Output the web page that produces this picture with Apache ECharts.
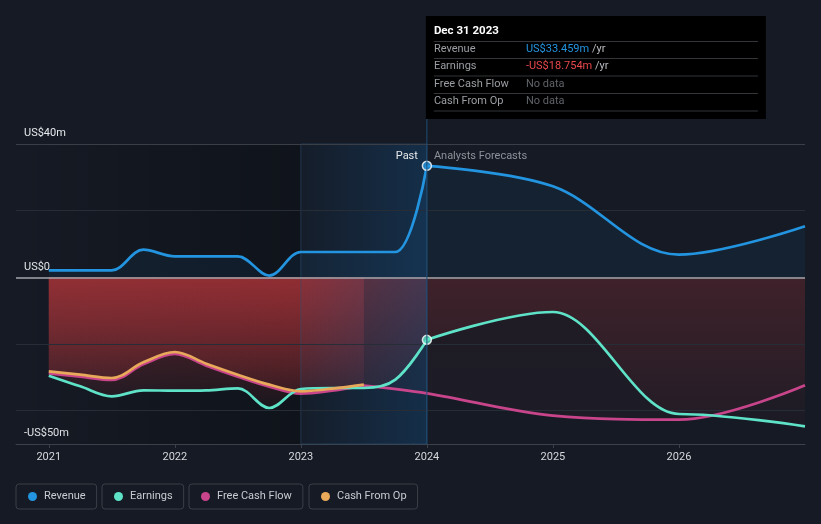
<!DOCTYPE html>
<html>
<head>
<meta charset="utf-8">
<script src="https://cdn.jsdelivr.net/npm/echarts@6/dist/echarts.min.js"></script>
<style>
html,body{margin:0;padding:0;background:#151a24;}
#c{width:821px;height:524px;}
</style>
</head>
<body>
<div id="c"></div>
<script>
// ---------- data ----------
const pastX        = [2021, 2021.25, 2021.5, 2021.75, 2022, 2022.25, 2022.5, 2022.75, 2023, 2023.25, 2023.5, 2023.75, 2024];
const revenuePast  = [2.1, 2.1, 2.1, 8.3, 6.3, 6.3, 6.3, 0.5, 7.6, 7.6, 7.6, 7.6, 33.459];
const earningsPast = [-29.5, -32.7, -35.7, -33.9, -34.0, -33.9, -33.3, -39.2, -33.5, -33.2, -33.2, -30.7, -18.754];
const cashOpX      = [2021, 2021.25, 2021.5, 2021.75, 2022, 2022.25, 2022.5, 2022.75, 2023, 2023.25, 2023.5];
const cashFromOp   = [-28.2, -29.2, -30.2, -25.5, -22.4, -25.9, -29.2, -32.2, -34.2, -33.4, -32.2];
const fcfPast      = [-28.8, -29.8, -30.8, -26.1, -23.0, -26.5, -29.8, -32.8, -34.9, -34.0, -32.5];
const forecastX    = [2024, 2025, 2026, 2027];
const revenueFc    = [33.459, 27.3, 6.8, 15.3];
const earningsFc   = [-18.754, -10.4, -41.0, -44.7];
const fcfFcX       = [2023.5, 2024, 2025, 2026, 2027];
const fcfFc        = [-32.5, -34.8, -41.5, -42.7, -32.4];

const seriesNames  = ['Revenue', 'Earnings', 'Free Cash Flow', 'Cash From Op'];
const yearTicks    = [2021, 2022, 2023, 2024, 2025, 2026];
const yLabelValues = [-50, 0, 40];
const yLabelTexts  = ['-US$50m', 'US$0', 'US$40m'];
const gridValues   = [40, 20, -20, -40];
const pastBand     = [2023, 2024];
const bandTexts    = ['Past', 'Analysts Forecasts'];

const tipTitle     = 'Dec 31 2023';
const tipLabels    = ['Revenue', 'Earnings', 'Free Cash Flow', 'Cash From Op'];
const tipValues    = ['US$33.459m', '-US$18.754m', 'No data', 'No data'];

// ---------- style ----------
const FONT = 'Roboto, "Noto Sans", sans-serif';
const COL = { Revenue:'#2394df', Earnings:'#5fe3c8', 'Free Cash Flow':'#c8458b', 'Cash From Op':'#e9a95b' };
const X_MIN = 2020.74, X_MAX = 2027, Y_MIN = -50, Y_MAX = 40;
const SMOOTH = 0.35;
const RED = '194,56,60';

function pairs(xs, ys){ return xs.map((x,i)=>[x, ys[i]]); }

function makeOption(geo){
  const lg = (y0, y1, stops) => geo
    ? new echarts.graphic.LinearGradient(0, y0, 0, y1, stops, true)
    : stops[0].color;
  const pastStops = a => [
    {offset:0, color:`rgba(${RED},${a})`},
    {offset:0.5, color:`rgba(${RED},${(a*0.5).toFixed(3)})`},
    {offset:1, color:`rgba(${RED},0)`}];
  const fcStops = (a, b) => [
    {offset:0, color:`rgba(${RED},${a})`},
    {offset:1, color:`rgba(${RED},${b})`}];
  const g = geo || {y0:0, y45:1, y50:1};

  const fillBase = {type:'line', smooth:SMOOTH, symbol:'none', silent:true, z:2,
    lineStyle:{width:0, opacity:0}, emphasis:{disabled:true}, legendHoverLink:false};
  const lineBase = {type:'line', smooth:SMOOTH, symbol:'none', silent:true, z:5,
    emphasis:{disabled:true}};
  const lineStyle = n => ({color:COL[n], width:2.7});

  const legendLefts = [16, 102, 189, 309];
  const legends = seriesNames.map((n,i)=>({
    data:[n], left:legendLefts[i], top:484, orient:'horizontal',
    icon:'circle', itemWidth:9, itemHeight:9, selectedMode:false,
    padding:[7, 11, 7, 12], borderColor:'#3a3e46', borderWidth:1, borderRadius:3,
    textStyle:{color:'#c8ccd2', fontSize:11, fontFamily:FONT, padding:[0,0,0,2]}
  }));

  const gridLines = gridValues.map(v=>({yAxis:v, lineStyle:{color: v===Y_MAX ? '#3a3f47' : '#272d36', width:1, type:'solid'}}));
  gridLines.push({yAxis:0, lineStyle:{color:'#a3a6ab', width:1.5, type:'solid'}});

  const series = [
    {type:'line', name:'_shade', data:[], z:1, silent:true,
      markArea:{silent:true, z:1,
        itemStyle:{color:new echarts.graphic.LinearGradient(0,0,1,0,[
          {offset:0,color:'rgba(0,0,0,0)'},{offset:1,color:'rgba(0,0,0,0.27)'}])},
        data:[[{xAxis:X_MIN},{xAxis:pastBand[0]}]]}},
    {...fillBase, name:'_revPastFill', data:pairs(pastX, revenuePast), areaStyle:{color:'rgba(35,148,223,0.1)'}},
    {...fillBase, name:'_revFcFill', data:pairs(forecastX, revenueFc), areaStyle:{color:'rgba(35,148,223,0.1)'}},
    {...fillBase, name:'_earnPastFill', data:pairs(pastX, earningsPast), areaStyle:{color:lg(g.y0, g.y45, pastStops(0.66))}},
    {...fillBase, name:'_cfoFill', data:pairs(cashOpX, cashFromOp), areaStyle:{color:lg(g.y0, g.y45, pastStops(0.45))}},
    {...fillBase, name:'_fcfPastFill', data:pairs(cashOpX, fcfPast), areaStyle:{color:lg(g.y0, g.y45, pastStops(0.35))}},
    {...fillBase, name:'_earnFcFill', smoothMonotone:'x', data:pairs(forecastX, earningsFc), areaStyle:{color:lg(g.y0, g.y50, fcStops(0.27, 0.02))}},
    {...fillBase, name:'_fcfFcFill', data:pairs(fcfFcX, fcfFc), areaStyle:{color:lg(g.y0, g.y50, fcStops(0.09, 0.06))}},
    {type:'line', name:'_band', data:[], z:3, silent:true,
      markArea:{silent:true, z:3,
        itemStyle:{color:new echarts.graphic.LinearGradient(0,0,1,0,[
          {offset:0,color:'rgba(20,75,125,0.06)'},{offset:1,color:'rgba(20,75,125,0.42)'}]),
          borderColor:'rgba(45,80,115,0.55)', borderWidth:1},
        data:[[{xAxis:pastBand[0]},{xAxis:pastBand[1]}]]}},
    {type:'line', name:'_grid', data:[], z:4, silent:true,
      markLine:{silent:true, z:4, symbol:'none', label:{show:false}, animation:false, data:gridLines}},
    {...lineBase, name:'Cash From Op', color:COL['Cash From Op'], data:pairs(cashOpX, cashFromOp), lineStyle:lineStyle('Cash From Op'), z:6},
    {...lineBase, name:'Free Cash Flow', color:COL['Free Cash Flow'], data:pairs(cashOpX, fcfPast), lineStyle:lineStyle('Free Cash Flow'), z:5},
    {...lineBase, name:'Free Cash Flow', color:COL['Free Cash Flow'], data:pairs(fcfFcX, fcfFc), lineStyle:lineStyle('Free Cash Flow')},
    {...lineBase, name:'Earnings', color:COL.Earnings, data:pairs(pastX, earningsPast), lineStyle:lineStyle('Earnings')},
    {...lineBase, name:'Earnings', color:COL.Earnings, smoothMonotone:'x', data:pairs(forecastX, earningsFc), lineStyle:lineStyle('Earnings')},
    {...lineBase, name:'Revenue', color:COL.Revenue, data:pairs(pastX, revenuePast), lineStyle:lineStyle('Revenue')},
    {...lineBase, name:'Revenue', color:COL.Revenue, data:pairs(forecastX, revenueFc), lineStyle:lineStyle('Revenue')},
    {type:'scatter', name:'_now', z:7, silent:true, symbolSize:9,
      data:[
        {value:[forecastX[0], revenueFc[0]], itemStyle:{color:COL.Revenue, borderColor:'#ffffff', borderWidth:1.5}},
        {value:[forecastX[0], earningsFc[0]], itemStyle:{color:COL.Earnings, borderColor:'#ffffff', borderWidth:1.5}}
      ]}
  ];

  let graphic = [];
  if (geo){
    const bx = geo.x24 - 1, by = 16, bw = 340, bh = 103;
    const txt = (x, y, text, fill, extra) => ({type:'text', x, y, z:20, silent:true,
      style:Object.assign({text, fill, fontSize:11, fontFamily:FONT, align:'left', verticalAlign:'middle'}, extra||{})});
    graphic.push({type:'line', z:19, silent:true, shape:{x1:geo.x24, y1:by+bh, x2:geo.x24, y2:geo.yBot},
      style:{stroke:'#1f4d76', lineWidth:1}});
    graphic.push({type:'rect', z:19, silent:true, shape:{x:bx, y:by, width:bw, height:bh}, style:{fill:'#000000'}});
    graphic.push(txt(bx+8, by+15, tipTitle, '#ffffff', {fontWeight:'bold', fontSize:11.5}));
    const seps = [25.5, 42.5, 60, 77.5, 95];
    seps.forEach(s=>graphic.push({type:'line', z:20, silent:true,
      shape:{x1:bx+8, y1:by+s, x2:bx+bw-8, y2:by+s}, style:{stroke:'#333538', lineWidth:1}}));
    const rows = [33.5, 50.5, 68, 85.5];
    const valCols = ['#2394df', '#e8474c'];
    tipLabels.forEach((l,i)=>{
      graphic.push(txt(bx+8, by+rows[i], l, '#9b9ea3'));
      if (tipValues[i] === 'No data'){
        graphic.push(txt(bx+100, by+rows[i], tipValues[i], '#5f6368'));
      } else {
        graphic.push({type:'text', x:bx+100, y:by+rows[i], z:20, silent:true,
          style:{text:'{v|'+tipValues[i]+'} {u|/yr}', fontSize:11, fontFamily:FONT, verticalAlign:'middle', fill:'#b8bbbf',
            rich:{v:{fill:valCols[i], fontSize:11, fontFamily:FONT}, u:{fill:'#b8bbbf', fontSize:11, fontFamily:FONT}}}});
      }
    });
    graphic.push(txt(geo.x24-9, geo.yTop+12, bandTexts[0], '#e8e9eb', {align:'right'}));
    graphic.push(txt(geo.x24+7, geo.yTop+12, bandTexts[1], '#8d9299'));
  }

  return {
    backgroundColor:'#151a24',
    animation:false,
    textStyle:{fontFamily:FONT},
    grid:{left:16, right:16, top:144, bottom:80},
    legend:legends,
    xAxis:{type:'value', min:X_MIN, max:X_MAX,
      axisLine:{show:true, onZero:false, lineStyle:{color:'#3b4049', width:1}},
      axisTick:{show:true, customValues:yearTicks, length:4, lineStyle:{color:'#3b4049'}},
      axisLabel:{customValues:yearTicks, formatter:v=>String(Math.round(v)), color:'#d6d8dc', fontSize:11, margin:8, fontFamily:FONT},
      splitLine:{show:false}},
    yAxis:{type:'value', min:Y_MIN, max:Y_MAX,
      axisLine:{show:false}, axisTick:{show:false}, splitLine:{show:false},
      axisLabel:{inside:true, customValues:yLabelValues,
        formatter:v=>yLabelTexts[yLabelValues.indexOf(Math.round(v))] || '',
        color:'#e6e8eb', fontSize:11, margin:8, verticalAlign:'bottom', padding:[0,0,5,0], fontFamily:FONT}},
    series,
    graphic
  };
}

const chart = echarts.init(document.getElementById('c'), null, {renderer:'canvas'});
chart.setOption(makeOption(null));
const geo = {
  x24: chart.convertToPixel({xAxisIndex:0}, pastBand[1]),
  y0: chart.convertToPixel({yAxisIndex:0}, 0),
  y45: chart.convertToPixel({yAxisIndex:0}, -45),
  y50: chart.convertToPixel({yAxisIndex:0}, Y_MIN),
  yTop: chart.convertToPixel({yAxisIndex:0}, Y_MAX),
  yBot: chart.convertToPixel({yAxisIndex:0}, Y_MIN)
};
chart.setOption(makeOption(geo), true);
</script>
</body>
</html>
